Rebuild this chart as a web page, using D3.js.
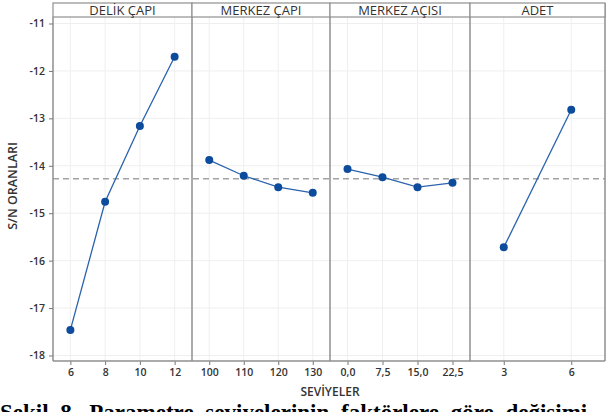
<!DOCTYPE html>
<html>
<head>
<meta charset="utf-8">
<script src="https://cdn.jsdelivr.net/npm/d3@7"></script>
<style>
  html, body { margin: 0; padding: 0; background: #fff; }
  svg { display: block; }
</style>
</head>
<body>
<svg id="chart" width="606" height="412"></svg>
<script>
// Factor names and their levels
const factors = ["DELİK ÇAPI", "MERKEZ ÇAPI", "MERKEZ AÇISI", "ADET"];
const delikLevels = ["6", "8", "10", "12"];
const merkezCapLevels = ["100", "110", "120", "130"];
const merkezAciLevels = ["0,0", "7,5", "15,0", "22,5"];
const adetLevels = ["3", "6"];

// Mean S/N ratio at each level
const delikSN = [-17.46, -14.76, -13.16, -11.70];
const merkezCapSN = [-13.88, -14.21, -14.45, -14.57];
const merkezAciSN = [-14.07, -14.24, -14.45, -14.36];
const adetSN = [-15.72, -12.82];

// Y-axis tick values
const yTicks = [-11, -12, -13, -14, -15, -16, -17, -18];

const panels = [
  { name: factors[0], levels: delikLevels, values: delikSN },
  { name: factors[1], levels: merkezCapLevels, values: merkezCapSN },
  { name: factors[2], levels: merkezAciLevels, values: merkezAciSN },
  { name: factors[3], levels: adetLevels, values: adetSN }
];

const svg = d3.select("#chart");
const font = "'Open Sans', 'Noto Sans', sans-serif";

const plotLeft = 53, plotRight = 605, plotTop = 17, plotBottom = 361;
const stripTop = 3;
const panelEdges = [53, 192, 330, 470, 605];

const y = d3.scaleLinear().domain([-18.116, -10.863]).range([plotBottom, plotTop]);

// Overall mean of all responses (the reference line)
const grand = d3.mean(panels.map(p => d3.mean(p.values)));

// Horizontal grid lines across all panels
svg.append("g").selectAll("line").data(yTicks).join("line")
  .attr("x1", plotLeft).attr("x2", plotRight)
  .attr("y1", d => y(d)).attr("y2", d => y(d))
  .attr("stroke", "#efefef").attr("stroke-width", 1);

panels.forEach((p, i) => {
  const x0 = panelEdges[i], x1 = panelEdges[i + 1];
  const x = d3.scalePoint().domain(p.levels).range([x0, x1]).padding(0.5);
  p.x = x;
  const g = svg.append("g");

  // vertical grid lines
  g.selectAll("line.vg").data(p.levels).join("line").attr("class", "vg")
    .attr("x1", d => x(d)).attr("x2", d => x(d))
    .attr("y1", plotTop).attr("y2", plotBottom)
    .attr("stroke", "#efefef").attr("stroke-width", 1);

  // x axis for this panel
  const ax = d3.axisBottom(x).tickSize(4).tickPadding(4);
  const axg = svg.append("g").attr("transform", `translate(0,${plotBottom})`).call(ax);
  axg.select(".domain").remove();
  axg.selectAll(".tick line").attr("stroke", "#777");
  axg.selectAll(".tick text")
    .attr("font-family", font).attr("font-size", 10.5).attr("font-weight", 600)
    .attr("fill", "#333");
});

// Mean reference line
svg.append("line")
  .attr("x1", plotLeft).attr("x2", plotRight)
  .attr("y1", y(grand)).attr("y2", y(grand))
  .attr("stroke", "#a3a3a3").attr("stroke-width", 1.5)
  .attr("stroke-dasharray", "6,4");

// Lines and markers
panels.forEach(p => {
  const pts = p.levels.map((l, j) => [p.x(l), y(p.values[j])]);
  svg.append("path")
    .attr("d", d3.line()(pts))
    .attr("fill", "none").attr("stroke", "#2a63ad").attr("stroke-width", 1.3);
  svg.append("g").selectAll("circle").data(pts).join("circle")
    .attr("cx", d => d[0]).attr("cy", d => d[1]).attr("r", 4)
    .attr("fill", "#0d4c9c");
});

// Panel separators and frame
svg.append("g").selectAll("line").data(panelEdges.slice(1, 4)).join("line")
  .attr("x1", d => d).attr("x2", d => d)
  .attr("y1", stripTop).attr("y2", plotBottom)
  .attr("stroke", "#8f8f8f").attr("stroke-width", 1.5);
svg.append("line").attr("x1", plotRight).attr("x2", plotRight)
  .attr("y1", stripTop).attr("y2", plotBottom)
  .attr("stroke", "#8f8f8f").attr("stroke-width", 1.5);

// Strip headers
panels.forEach((p, i) => {
  const x0 = panelEdges[i], x1 = panelEdges[i + 1];
  svg.append("rect")
    .attr("x", x0).attr("y", stripTop).attr("width", x1 - x0).attr("height", plotTop - stripTop)
    .attr("fill", "#fff").attr("stroke", "#8f8f8f").attr("stroke-width", 1.2);
  svg.append("text")
    .attr("x", (x0 + x1) / 2).attr("y", 14.5)
    .attr("text-anchor", "middle")
    .attr("font-family", font).attr("font-size", 13)
    .attr("fill", "#333")
    .text(p.name);
});

// Y axis
const yAxis = d3.axisLeft(y).tickValues(yTicks).tickFormat(d => d).tickSize(4).tickPadding(4);
const yg = svg.append("g").attr("transform", `translate(${plotLeft},0)`).call(yAxis);
yg.select(".domain").attr("stroke", "#8f8f8f").attr("stroke-width", 1.5)
  .attr("d", `M0,${plotTop}V${plotBottom}`);
yg.selectAll(".tick line").attr("stroke", "#777");
yg.selectAll(".tick text")
  .attr("font-family", font).attr("font-size", 10.5).attr("font-weight", 600)
  .attr("fill", "#333");

// Bottom axis line
svg.append("line").attr("x1", plotLeft).attr("x2", plotRight)
  .attr("y1", plotBottom).attr("y2", plotBottom)
  .attr("stroke", "#8f8f8f").attr("stroke-width", 1.5);

// Axis titles
svg.append("text")
  .attr("transform", `translate(17,186) rotate(-90)`)
  .attr("text-anchor", "middle")
  .attr("font-family", font).attr("font-size", 12.5).attr("font-weight", 600)
  .attr("fill", "#333")
  .text("S/N ORANLARI");

svg.append("text")
  .attr("x", 330).attr("y", 396)
  .attr("text-anchor", "middle")
  .attr("font-family", font).attr("font-size", 12).attr("font-weight", 600)
  .attr("fill", "#333")
  .text("SEVİYELER");

// Figure caption along the bottom edge
svg.append("text")
  .attr("x", 0).attr("y", 420)
  .attr("font-family", "'Liberation Serif', 'Times New Roman', serif")
  .attr("font-size", 23).attr("font-weight", "bold")
  .attr("word-spacing", 6)
  .attr("fill", "#000")
  .text("Şekil 8. Parametre seviyelerinin faktörlere göre değişimi");
</script>
</body>
</html>
